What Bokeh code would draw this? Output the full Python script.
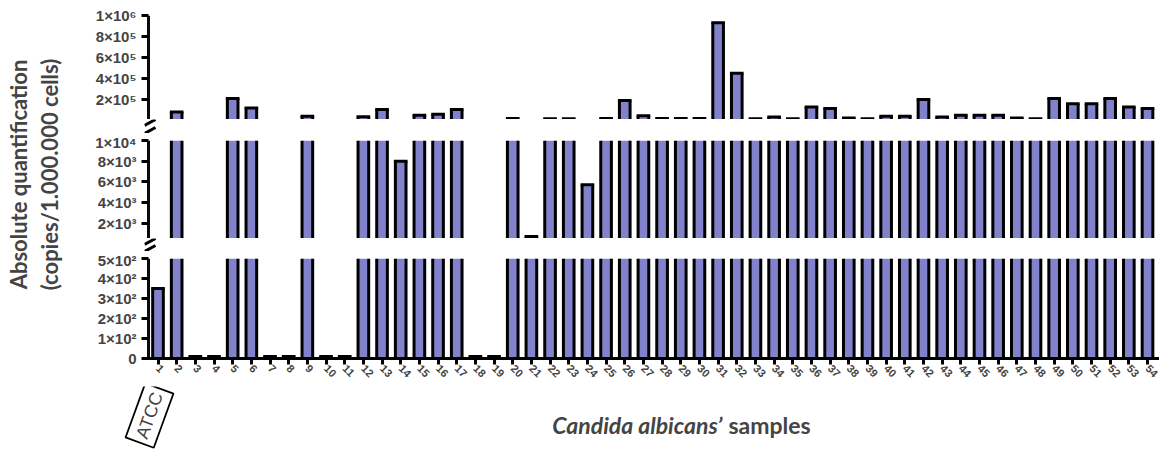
import math
from bokeh.plotting import figure
from bokeh.layouts import row, column
from bokeh.models import Range1d, FixedTicker, Label
from bokeh.embed import file_html
from bokeh.resources import INLINE

# ---------------- data ----------------
samples = list(range(1, 55))
values = [
    350, 81000, 10, 10, 210000, 120000, 10, 10, 40000, 10,
    10, 35000, 105000, 8000, 50000, 60000, 105000, 10, 10, 20000,
    700, 18000, 18000, 5700, 20000, 190000, 45000, 20000, 20000, 20000,
    930000, 450000, 18000, 33000, 16000, 130000, 115000, 25000, 16000, 40000,
    40000, 200000, 33000, 50000, 50000, 50000, 25000, 18000, 210000, 160000,
    160000, 210000, 130000, 115000,
]

top_ticks = [200000, 400000, 600000, 800000, 1000000]
top_labels = ["2×10⁵", "4×10⁵", "6×10⁵", "8×10⁵", "1×10⁶"]
mid_ticks = [2000, 4000, 6000, 8000, 10000]
mid_labels = ["2×10³", "4×10³", "6×10³", "8×10³", "1×10⁴"]
bot_ticks = [0, 100, 200, 300, 400, 500]
bot_labels = ["0", "1×10²", "2×10²", "3×10²", "4×10²", "5×10²"]

seg_top = (10000, 1000000)
seg_mid = (500, 10000)
seg_bot = (0, 500)

x_title_italic = "Candida albicans’"
x_title_plain = "samples"
y_title_1 = "Absolute quantification"
y_title_2 = "(copies/1.000.000 cells)"
ref_label = "ATCC"

# ---------------- layout ----------------
TOTAL_W = 1159
LEFT_W = 70
W = TOTAL_W - LEFT_W
FRAME_L = 144                 # page x of the panel frames' left edge
BORDER_L = FRAME_L - LEFT_W
AXIS_PX = 148                 # page x of the drawn y axis line
FILL = "#8282CC"
AXIS_COLOR = "#0a0a0a"
XPX = 18.67                   # px per sample
BAR_W = 0.57
x0 = 1 - (157.5 - FRAME_L) / XPX
xr = Range1d(x0, x0 + (TOTAL_W - FRAME_L) / XPX)
x_axis = x0 + (AXIS_PX - FRAME_L) / XPX
FONT = "Liberation Sans"
TFONT = "Lato"


def draw_bars(p, lo, hi):
    fx, fb, ft = [], [], []
    tx0, tx1, ty = [], [], []
    for xi, v in zip(samples, values):
        if v <= lo:
            continue
        t = min(v, hi)
        fx.append(xi)
        fb.append(lo)
        ft.append(t)
        if v <= hi:
            tx0.append(xi - BAR_W / 2)
            tx1.append(xi + BAR_W / 2)
            ty.append(v)
    p.vbar(x=fx, bottom=fb, top=ft, width=BAR_W, fill_color=FILL, line_color=None)
    for side in (-1, 1):
        xs = [x + side * BAR_W / 2 for x in fx]
        p.segment(x0=xs, y0=fb, x1=xs, y1=ft, line_color="black", line_width=3)
    p.segment(x0=tx0, y0=ty, x1=tx1, y1=ty, line_color="black", line_width=3,
              line_cap="square")


def panel(seg, ticks, labels, height, bt, bb, show_x):
    p = figure(width=W, height=height, x_range=xr, y_range=Range1d(*seg),
               output_backend="svg", toolbar_location=None,
               min_border_left=BORDER_L, min_border_right=0,
               min_border_top=bt, min_border_bottom=bb,
               x_axis_location="below" if show_x else None)
    p.grid.visible = False
    p.outline_line_color = None
    draw_bars(p, seg[0], seg[1])
    ax = p.yaxis[0]
    ax.ticker = FixedTicker(ticks=ticks)
    ax.major_label_overrides = {t: l for t, l in zip(ticks, labels)}
    ax.axis_line_color = None
    ax.major_tick_line_width = 3
    ax.major_tick_out = 3
    ax.major_tick_in = 4
    ax.minor_tick_line_color = None
    ax.major_label_text_font = FONT
    ax.major_label_text_font_style = "bold"
    ax.major_label_text_font_size = "15px"
    ax.major_label_standoff = 5
    if show_x:
        xa = p.xaxis[0]
        xa.ticker = FixedTicker(ticks=samples)
        xa.axis_line_width = 3
        xa.major_tick_line_width = 3
        xa.major_tick_out = 6
        xa.major_tick_in = 0
        xa.minor_tick_line_color = None
        xa.major_label_orientation = -math.pi / 4
        xa.major_label_text_font = FONT
        xa.major_label_text_font_style = "bold"
        xa.major_label_text_font_size = "11px"
        xa.major_label_standoff = 2
    # y axis line of this segment, drawn inside the frame
    p.quad(left=[x_axis - 1.5 / XPX], right=[x_axis + 1.5 / XPX], bottom=[seg[0]],
           top=[seg[1]], fill_color=AXIS_COLOR, line_color=None)
    return p


def gap_fig(h):
    f = figure(width=W, height=h, x_range=Range1d(FRAME_L, TOTAL_W), y_range=Range1d(h, 0),
               output_backend="svg", toolbar_location=None,
               min_border_left=BORDER_L, min_border_right=0,
               min_border_top=0, min_border_bottom=0,
               x_axis_location=None, y_axis_location=None)
    f.grid.visible = False
    f.outline_line_color = None
    return f


def break_marks(f, ys):
    f.segment(x0=[AXIS_PX - 4] * len(ys), y0=[y + 3 for y in ys],
              x1=[AXIS_PX + 7] * len(ys), y1=[y - 3 for y in ys],
              line_color="black", line_width=3)


p_top = panel(seg_top, top_ticks, top_labels, 119, 15, 0, False)
gap1 = gap_fig(14)
break_marks(gap1, [3, 11])
p_mid = panel(seg_mid, mid_ticks, mid_labels, 105, 7, 0, False)
gap2 = gap_fig(13)
break_marks(gap2, [3, 10])
p_bot = panel(seg_bot, bot_ticks, bot_labels, 135, 7, 28, True)
PANELS_H = 119 + 14 + 105 + 13 + 135

# y title in a narrow left canvas
p_left = figure(width=LEFT_W, height=PANELS_H, x_range=Range1d(0, LEFT_W),
                y_range=Range1d(PANELS_H, 0),
                output_backend="svg", toolbar_location=None, min_border=0,
                x_axis_location=None, y_axis_location=None)
p_left.grid.visible = False
p_left.outline_line_color = None
for xt, txt in [(18, y_title_1), (49, y_title_2)]:
    p_left.add_layout(Label(x=xt, y=174, text=txt, angle=90, angle_units="deg",
                            text_align="center", text_baseline="middle",
                            text_font=TFONT, text_font_size="22px", text_font_style="bold"))

# bottom strip for the ATCC box and x title (page pixel coordinates)
STRIP_H = 450 - PANELS_H
strip = figure(width=TOTAL_W, height=STRIP_H, x_range=Range1d(0, TOTAL_W),
               y_range=Range1d(STRIP_H, 0),
               output_backend="svg", toolbar_location=None, min_border=0,
               x_axis_location=None, y_axis_location=None)
strip.grid.visible = False
strip.outline_line_color = None
strip.add_layout(Label(x=149, y=29, text=ref_label,
                       angle=70, angle_units="deg",
                       text_align="center", text_baseline="middle",
                       text_font=FONT, text_font_size="18px",
                       border_line_color="black", border_line_width=1.8,
                       background_fill_color="white", padding=5))
strip.add_layout(Label(x=722, y=38, text=x_title_italic,
                       text_align="right", text_baseline="middle",
                       text_font=TFONT, text_font_size="23px",
                       text_font_style="bold italic"))
strip.add_layout(Label(x=728, y=38, text=x_title_plain,
                       text_align="left", text_baseline="middle",
                       text_font=TFONT, text_font_size="23px",
                       text_font_style="bold"))

layout = column(row(p_left, column(p_top, gap1, p_mid, gap2, p_bot)), strip)

open("out.html", "w").write(file_html(layout, INLINE))
